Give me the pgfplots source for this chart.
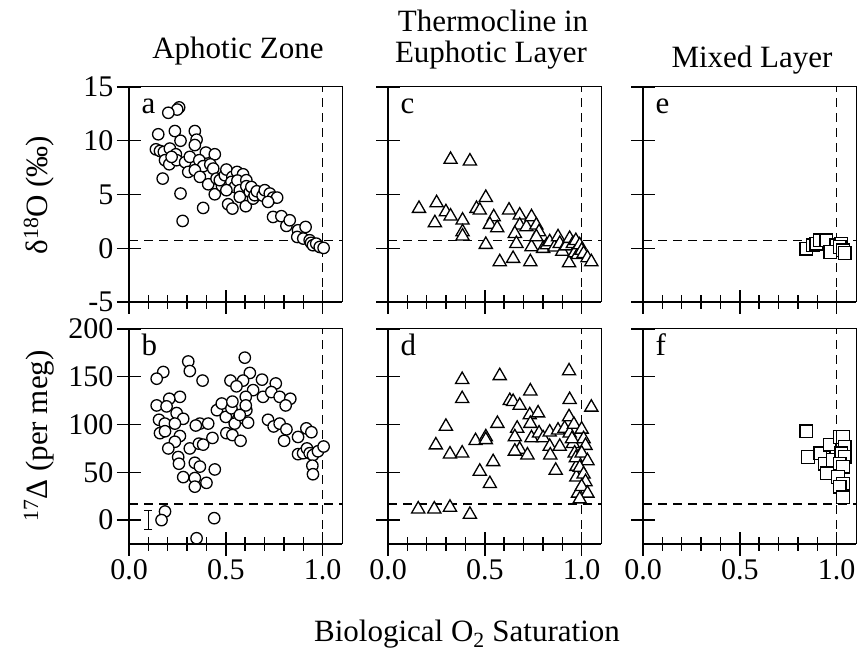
\documentclass[border=0pt]{standalone}
\usepackage{fontspec}
\setmainfont{Liberation Serif}
\usepackage{pgfplots}
\pgfplotsset{compat=1.18}
\pgfplotsset{
  panel/.style={
    scale only axis, width=213bp, height=215bp, anchor=south west,
    xmin=0, xmax=1.1, xtick={0,0.5,1}, minor x tick num=4,
    tick pos=left, tick align=center,
    major tick length=24bp, minor tick length=14bp,
    every tick/.style={line width=1.4bp, black},
    axis line style={line width=1bp},
    tick label style={font=\fontsize{30bp}{34bp}\selectfont},
    /pgf/number format/assume math mode=true,
    clip mode=individual,
  },
  toprow/.style={ymin=-5, ymax=15, ytick={-5,0,5,10,15}, xticklabels={}},
  botrow/.style={ymin=-25, ymax=200, ytick={0,50,100,150,200},
    xticklabel style={/pgf/number format/.cd, fixed, fixed zerofill, precision=1}},
  noylab/.style={yticklabels={}},
  dashl/.style={black, line width=1.4bp, dash pattern=on 9bp off 6bp, forget plot},
  circ/.style={only marks, mark=*, mark size=5.7bp, mark options={fill=white, draw=black, line width=1.3bp}},
  tri/.style={only marks, mark=triangle*, mark size=7.6bp, mark options={fill=white, draw=black, line width=1.3bp}},
  sq/.style={only marks, mark=square*, mark size=6.3bp, mark options={fill=white, draw=black, line width=1.3bp}},
}
\newcommand{\frameLB}{\draw[line width=1.9bp] (rel axis cs:0,1) -- (rel axis cs:0,0) -- (rel axis cs:1,0);}
\newcommand{\plab}[1]{\node[anchor=base west, font=\fontsize{31bp}{34bp}\selectfont, xshift=9bp, yshift=-27bp] at (rel axis cs:0,1) {#1};}
\begin{document}
\begin{tikzpicture}[x=1bp,y=1bp]
\path[use as bounding box] (0,0) rectangle (858,651);

% ---------- panel a ----------
\begin{axis}[panel, toprow, at={(129bp,349bp)}]
\addplot[dashl] coordinates {(1,-5) (1,15)};
\addplot[dashl] coordinates {(0,0.7) (1.1,0.7)};
\addplot[circ] coordinates {
(0.259,13.1) (0.249,12.9) (0.203,12.6) (0.151,10.6) (0.237,10.9) (0.340,10.9) (0.349,10.1) (0.266,10.0)
(0.139,9.2) (0.160,9.05) (0.180,8.96) (0.211,9.27) (0.242,8.74) (0.186,8.19) (0.208,7.81) (0.246,8.19)
(0.22,8.5) (0.29,8.0) (0.314,8.5) (0.340,9.6) (0.397,8.9) (0.443,8.74) (0.363,8.19) (0.383,7.63)
(0.306,7.1) (0.340,7.26) (0.366,6.64) (0.42,7.8) (0.435,7.41) (0.409,5.95) (0.452,6.48) (0.174,6.48)
(0.266,5.09) (0.277,2.54) (0.383,3.75) (0.443,5.02) (0.48,5.8) (0.469,6.33) (0.495,6.79) (0.503,7.32)
(0.534,6.64) (0.558,7.1) (0.589,6.88) (0.529,6.17) (0.546,5.7) (0.56,6.3) (0.503,5.4) (0.512,4.09)
(0.534,3.69) (0.572,5.4) (0.572,4.78) (0.606,6.33) (0.606,5.77) (0.624,5.24) (0.632,5.7) (0.603,3.91)
(0.641,4.62) (0.649,4.93) (0.66,5.3) (0.69,4.9) (0.701,5.4) (0.727,5.09) (0.744,4.71) (0.765,4.71)
(0.718,4.31) (0.744,2.91) (0.787,2.98) (0.813,2.08) (0.830,2.6) (0.873,1.67) (0.869,1.05) (0.912,1.98)
(0.90,0.9) (0.933,0.74) (0.94,0.5) (0.950,0.28) (0.967,0.43) (0.985,0.12) (1.005,0.03)
};
\frameLB
\plab{a}
\end{axis}

% ---------- panel b ----------
\begin{axis}[panel, botrow, at={(129bp,107bp)}]
\addplot[dashl] coordinates {(1,-25) (1,200)};
\addplot[dashl] coordinates {(0,17) (1.1,17)};
\addplot[black, line width=1.3bp, no marks, forget plot,
  error bars/.cd, y dir=both, y explicit,
  error bar style={line width=1.3bp, black},
  error mark options={rotate=90, mark size=4bp, line width=1.3bp, black}]
  coordinates {(0.1,0) +- (0,10)};
\addplot[circ] coordinates {
(0.598,170) (0.306,166) (0.314,156) (0.177,155) (0.143,148) (0.380,146) (0.624,154) (0.687,147)
(0.524,146) (0.589,146) (0.555,140) (0.758,143) (0.641,136) (0.692,129) (0.735,134) (0.778,129)
(0.833,127) (0.809,120) (0.603,129) (0.263,129) (0.208,127) (0.143,120) (0.194,119) (0.246,112)
(0.280,106) (0.155,105) (0.185,101) (0.237,101) (0.160,91) (0.186,93) (0.263,88) (0.237,82)
(0.203,75) (0.254,66) (0.258,59) (0.314,75) (0.366,101) (0.345,99) (0.409,101) (0.361,80)
(0.383,79) (0.431,86) (0.340,60) (0.366,56) (0.443,53) (0.280,45) (0.340,44) (0.340,35)
(0.400,39) (0.454,115) (0.479,122) (0.500,108) (0.529,117) (0.534,124) (0.503,91) (0.534,89)
(0.576,83) (0.564,106) (0.615,102) (0.606,115) (0.603,120) (0.546,101) (0.572,110) (0.718,105)
(0.747,98) (0.778,101) (0.813,95) (0.801,83) (0.873,87) (0.916,96) (0.942,92) (0.873,69)
(0.899,70) (0.919,75) (0.933,70) (0.950,68) (0.976,72) (1.005,77) (0.947,57) (0.950,48)
(0.186,9) (0.168,0) (0.440,2) (0.349,-19)
};
\frameLB
\plab{b}
\end{axis}

% ---------- panel c ----------
\begin{axis}[panel, toprow, noylab, at={(388bp,349bp)}]
\addplot[dashl] coordinates {(1,-5) (1,15)};
\addplot[dashl] coordinates {(0,0.7) (1.1,0.7)};
\addplot[tri] coordinates {
(0.323,8.25) (0.423,8.1) (0.160,3.69) (0.251,4.22) (0.242,2.36) (0.299,3.38) (0.323,2.98) (0.385,2.6)
(0.385,1.52) (0.385,1.12) (0.457,3.69) (0.474,3.53) (0.505,4.71) (0.546,2.91) (0.526,2.2) (0.564,1.89)
(0.505,0.34) (0.577,-1.27) (0.646,-0.96) (0.625,3.53) (0.680,3.07) (0.680,2.14) (0.655,1.36) (0.663,0.43)
(0.715,1.98) (0.741,2.91) (0.766,2.14) (0.780,1.52) (0.741,0.12) (0.735,-1.27) (0.766,1.05) (0.801,-0.03)
(0.82,0.3) (0.835,0.59) (0.86,0.1) (0.878,1.05) (0.887,0.43) (0.90,-0.3) (0.92,0.2) (0.938,0.9)
(0.955,0.43) (0.935,-1.36) (0.964,-0.43) (0.97,0.7) (0.98,-0.6) (0.99,0.3) (1.0,-0.2) (1.01,-0.5)
(1.03,-0.9) (1.05,-1.27)
};
\frameLB
\plab{c}
\end{axis}

% ---------- panel d ----------
\begin{axis}[panel, botrow, noylab, at={(388bp,107bp)}]
\addplot[dashl] coordinates {(1,-25) (1,200)};
\addplot[dashl] coordinates {(0,17) (1.1,17)};
\addplot[tri] coordinates {
(0.156,11.5) (0.239,11.5) (0.320,13.3) (0.423,5.9) (0.383,147) (0.577,151) (0.383,127) (0.299,98)
(0.247,78.5) (0.320,69) (0.383,70) (0.452,83) (0.505,87) (0.505,84) (0.565,101) (0.474,51)
(0.543,61) (0.526,38) (0.935,156) (0.735,135) (0.629,125) (0.646,124) (0.680,120) (0.732,110)
(0.775,112) (0.667,96) (0.735,101) (0.655,87) (0.680,74) (0.655,72) (0.720,68) (0.741,86)
(0.780,91) (0.801,86) (0.835,92) (0.835,77) (0.838,68) (0.866,52) (0.878,94) (0.887,77)
(0.912,96) (0.938,126) (0.935,108) (0.938,91) (0.955,80) (0.964,70) (0.973,56) (0.973,45)
(0.981,28) (0.96,100) (0.95,85) (0.97,65) (1.0,95) (1.01,85) (1.02,78) (1.0,70)
(1.03,62) (0.99,55) (1.01,48) (1.02,40) (1.0,35) (1.03,28) (0.99,22) (1.05,118)
};
\frameLB
\plab{d}
\end{axis}

% ---------- panel e ----------
\begin{axis}[panel, toprow, noylab, at={(643bp,349bp)}]
\addplot[dashl] coordinates {(1,-5) (1,15)};
\addplot[dashl] coordinates {(0,0.7) (1.1,0.7)};
\addplot[sq] coordinates {
(0.844,-0.03) (0.878,0.28) (0.895,0.43) (0.912,0.74) (0.947,0.74) (0.998,0.28) (1.024,0.43) (0.967,-0.34)
(1.015,0.12) (1.033,-0.19) (1.041,-0.43)
};
\frameLB
\plab{e}
\end{axis}

% ---------- panel f ----------
\begin{axis}[panel, botrow, noylab, at={(643bp,107bp)}]
\addplot[dashl] coordinates {(1,-25) (1,200)};
\addplot[dashl] coordinates {(0,17) (1.1,17)};
\addplot[sq] coordinates {
(0.844,93) (0.852,66) (0.916,70) (0.964,79) (0.938,59) (0.950,49) (0.998,66) (1.015,87)
(1.033,87) (1.041,77) (0.981,63) (1.024,70) (1.041,66) (1.015,59) (1.033,56) (1.007,45)
(1.033,38) (1.015,35) (1.033,24)
};
\frameLB
\plab{f}
\end{axis}

% ---------- labels ----------
\begin{scope}[every node/.style={font=\fontsize{31bp}{34bp}\selectfont}]
\node[anchor=base] at (238,592) {Aphotic Zone};
\node[anchor=base] at (493,619) {Thermocline in};
\node[anchor=base] at (491,588) {Euphotic Layer};
\node[anchor=base] at (752,583) {Mixed Layer};
\node[anchor=base] at (467,9) {Biological O\textsubscript{2} Saturation};
\node[anchor=base, rotate=90] at (47,456) {δ\textsuperscript{18}O (‰)};
\node[anchor=base, rotate=90] at (47,215) {\textsuperscript{17}Δ (per meg)};
\end{scope}
\end{tikzpicture}
\end{document}
